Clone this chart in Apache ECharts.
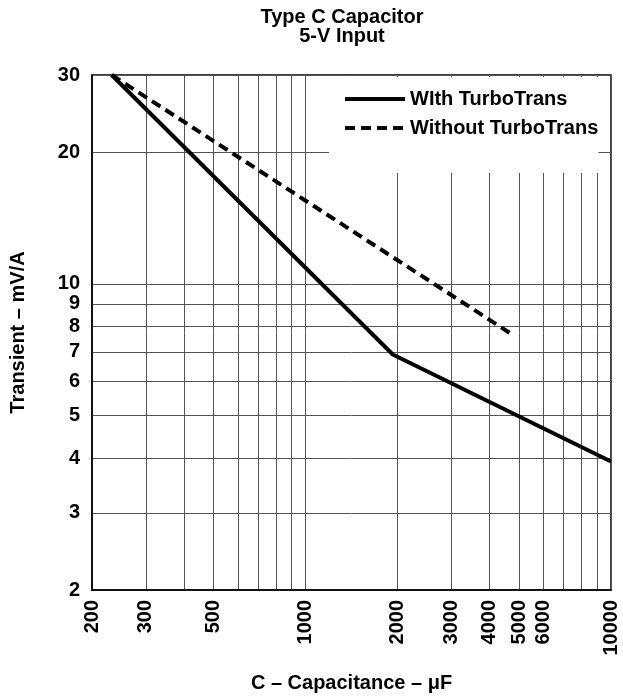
<!DOCTYPE html>
<html>
	<head>
		<meta charset="utf-8">
		<title>Type C Capacitor</title>
		<style type="text/css">
			html, body { margin: 0; padding: 0; background: #fff; }
			#main { width: 623px; height: 698px; }
		</style>
	</head>
	<body>
		<div id="main"></div>
		<script src="https://cdn.jsdelivr.net/npm/echarts@6/dist/echarts.min.js"></script>
		<script type="text/javascript">
			// values (capacitance in uF, transient in mV/A)
			var capWith = [232, 1930, 10000];
			var transWith = [30, 6.9, 3.93];
			var capWithout = [232, 4700];
			var transWithout = [30, 7.7];

			// grid lines and tick labels
			var xGridValues = [200, 300, 400, 500, 600, 700, 800, 900, 1000, 2000, 3000, 4000, 5000, 6000, 7000, 8000, 9000, 10000];
			var xLabelValues = [200, 300, 500, 1000, 2000, 3000, 4000, 5000, 6000, 10000];
			var yGridValues = [2, 3, 4, 5, 6, 7, 8, 9, 10, 20, 30];

			var lg = Math.log10;
			function pairs(xs, ys) {
				return xs.map(function (x, i) { return [lg(x), lg(ys[i])]; });
			}
			function fmt(v) { return String(Math.round(Math.pow(10, v))); }

			var font = 'Liberation Sans, Arial, sans-serif';
			var myChart = echarts.init(document.getElementById('main'));

			var option = {
				animation: false,
				backgroundColor: '#fff',
				title: {
					text: 'Type C Capacitor\n5-V Input',
					left: 342,
					top: 8,
					padding: 0,
					textAlign: 'center',
					textStyle: { fontFamily: font, fontSize: 20, fontWeight: 'bold', color: '#000', lineHeight: 19 }
				},
				grid: {
					left: 88, right: 12, top: 75, bottom: 101,
					show: true, borderColor: '#000', borderWidth: 1.5
				},
				legend: {
					orient: 'vertical',
					left: 329,
					top: 77,
					padding: [12, 0, 35, 14],
					itemGap: 9,
					itemWidth: 60,
					itemHeight: 14,
					backgroundColor: '#fff',
					lineStyle: { width: 4 },
					itemStyle: { opacity: 0, borderWidth: 0 },
					textStyle: { fontFamily: font, fontSize: 20, fontWeight: 'bold', color: '#000', lineHeight: 20 }
				},
				xAxis: {
					type: 'value',
					min: lg(200),
					max: lg(10000),
					name: 'C – Capacitance – μF',
					nameLocation: 'middle',
					nameGap: 83,
					nameTextStyle: { fontFamily: font, fontSize: 20, fontWeight: 'bold', color: '#000' },
					axisLine: { lineStyle: { color: '#000', width: 1.5 } },
					axisTick: { show: false, customValues: xGridValues.map(lg) },
					axisLabel: {
						customValues: xLabelValues.map(lg),
						rotate: 90,
						margin: 10,
						formatter: fmt,
						fontFamily: font, fontSize: 20, fontWeight: 'bold', color: '#000'
					},
					splitLine: { show: true, lineStyle: { color: '#555', width: 1 } }
				},
				yAxis: {
					type: 'value',
					min: lg(2),
					max: lg(30),
					name: 'Transient – mV/A',
					nameLocation: 'middle',
					nameGap: 64,
					nameTextStyle: { fontFamily: font, fontSize: 20, fontWeight: 'bold', color: '#000' },
					axisLine: { show: true, lineStyle: { color: '#000', width: 1.5 } },
					axisTick: { show: false, customValues: yGridValues.map(lg) },
					axisLabel: {
						customValues: yGridValues.map(lg),
						margin: 12,
						formatter: fmt,
						fontFamily: font, fontSize: 20, fontWeight: 'bold', color: '#000'
					},
					splitLine: { show: true, lineStyle: { color: '#555', width: 1 } }
				},
				series: [{
					name: 'WIth TurboTrans',
					type: 'line',
					symbol: 'none',
					data: pairs(capWith, transWith),
					lineStyle: { color: '#000', width: 4 },
					itemStyle: { color: '#000' }
				}, {
					name: 'Without TurboTrans',
					type: 'line',
					symbol: 'none',
					data: pairs(capWithout, transWithout),
					lineStyle: { color: '#000', width: 4, type: [10, 6] },
					itemStyle: { color: '#000' }
				}]
			};
			myChart.setOption(option);
		</script>
	</body>
</html>
